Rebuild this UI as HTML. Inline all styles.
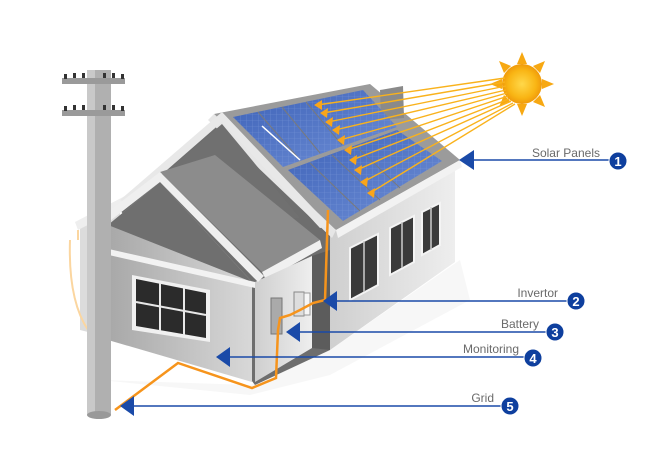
<!DOCTYPE html>
<html><head><meta charset="utf-8"><style>
html,body{margin:0;padding:0;background:#fff;}
svg{display:block;}
text{font-family:"Liberation Sans",sans-serif;}
</style></head><body>
<svg width="650" height="461" viewBox="0 0 650 461" xmlns="http://www.w3.org/2000/svg">
<defs>
<linearGradient id="wall" x1="0" x2="1"><stop offset="0" stop-color="#a8a8a8"/><stop offset="1" stop-color="#d8d8d8"/></linearGradient>
<linearGradient id="side" x1="0" x2="1"><stop offset="0" stop-color="#cfcfcf"/><stop offset="1" stop-color="#eeeeee"/></linearGradient>
<linearGradient id="pv" x1="0" x2="1" y1="0" y2="1"><stop offset="0" stop-color="#3d62b8"/><stop offset="1" stop-color="#6f8fd6"/></linearGradient>
<radialGradient id="sun"><stop offset="0" stop-color="#ffd84a"/><stop offset="0.7" stop-color="#f9b514"/><stop offset="1" stop-color="#f09a0a"/></radialGradient>
<pattern id="cells" width="6" height="6" patternUnits="userSpaceOnUse"><rect width="6" height="6" fill="none"/><path d="M0 0H6M0 0V6" stroke="#8aa4e0" stroke-width="0.6" opacity="0.6"/></pattern>
</defs>
<polygon points="100,380 250,395 330,375 470,300 460,260 330,350 250,385" fill="#f7f7f7"/>
<polygon points="222,112 335,225 330,350 255,385 120,210" fill="#6e6e6e"/>
<polygon points="80,225 120,200 120,340 80,330" fill="#dcdcdc"/>
<polygon points="75,222 125,196 127,205 78,230" fill="#eee"/>
<polygon points="330,232 455,165 455,262 330,350" fill="url(#side)"/>
<g fill="#3a3a3a" stroke="#f4f4f4" stroke-width="2">
<polygon points="350,248 378,234 378,285 350,300"/>
<polygon points="390,228 414,216 414,262 390,275"/>
<polygon points="422,212 440,203 440,245 422,255"/>
</g>
<g stroke="#ccc" stroke-width="1.5"><line x1="364" y1="241" x2="364" y2="292"/><line x1="402" y1="222" x2="402" y2="268"/><line x1="431" y1="207" x2="431" y2="250"/></g>
<polygon points="214,114 370,84 460,160 336,230" fill="#9b9b9b"/>
<polygon points="214,114 336,230 332,238 208,120" fill="#e6e6e6"/>
<polygon points="336,230 460,160 462,167 338,238" fill="#f2f2f2"/>
<polygon points="380,90 403,86 404,118 381,120" fill="#8a8a8a"/>
<polygon points="233,117 363,90 397,127 283,167" fill="url(#pv)"/>
<polygon points="233,117 363,90 397,127 283,167" fill="url(#cells)"/>
<polygon points="288,170 397,130 442,161 343,221" fill="url(#pv)"/>
<polygon points="288,170 397,130 442,161 343,221" fill="url(#cells)"/>
<g stroke="#7a7a7a" stroke-width="1"><line x1="258" y1="112" x2="300" y2="160"/><line x1="282" y1="107" x2="320" y2="153"/><line x1="306" y1="102" x2="342" y2="145"/><line x1="310" y1="163" x2="360" y2="211"/><line x1="332" y1="155" x2="380" y2="200"/><line x1="356" y1="146" x2="400" y2="188"/></g>
<line x1="262" y1="126" x2="300" y2="160" stroke="#fff" stroke-width="1.5"/>
<polygon points="222,112 120,200 128,204 222,122 320,228 330,226" fill="#e8e8e8"/>
<polygon points="222,124 128,204 240,220 300,218" fill="#707070"/>
<polygon points="160,172 215,155 320,240 262,272" fill="#8c8c8c"/>
<polygon points="262,272 320,240 322,248 266,280" fill="#f0f0f0"/>
<polygon points="255,282 312,256 312,348 255,382" fill="url(#side)"/>
<polygon points="312,256 330,250 330,350 312,348" fill="#5c5c5c"/>
<polygon points="160,182 108,225 108,340 252,382 252,282" fill="url(#wall)"/>
<polygon points="160,182 108,225 252,282" fill="#6f6f6f"/>
<polygon points="160,172 100,218 106,224 160,182 258,282 264,276" fill="#efefef"/>
<polygon points="100,247 255,282 255,288 100,253" fill="#f2f2f2"/>
<polygon points="132,275 210,290 210,342 132,330" fill="#f0f0f0"/>
<polygon points="136,279 206,293 206,338 136,326" fill="#2b2b2b"/>
<g stroke="#e8e8e8" stroke-width="2"><line x1="160" y1="283" x2="160" y2="331"/><line x1="184" y1="288" x2="184" y2="335"/><line x1="136" y1="302" x2="206" y2="315"/></g>
<rect x="271" y="298" width="11" height="36" fill="#aaa" stroke="#777"/>
<rect x="294" y="292" width="10" height="24" fill="#ddd" stroke="#888"/>
<rect x="304" y="293" width="6" height="22" fill="#f6f6f6" stroke="#999"/>
<polyline points="328,210 325,300 313,303 300,310 290,315 280,318 278,330 276,378 252,388 178,363 115,410" fill="none" stroke="#f6941c" stroke-width="2.5"/>
<path d="M78,230 V240 M70,240 Q68,300 88,330" fill="none" stroke="#fbd6a0" stroke-width="2"/>
<rect x="87" y="70" width="24" height="345" fill="#b0b0b0"/>
<rect x="87" y="70" width="8" height="345" fill="#c9c9c9"/>
<ellipse cx="99" cy="415" rx="12" ry="4" fill="#999"/>
<rect x="62" y="78" width="63" height="6" fill="#9a9a9a"/>
<rect x="62" y="110" width="63" height="6" fill="#9a9a9a"/>
<g fill="#333"><rect x="64" y="74" width="3" height="5"/><rect x="73" y="73" width="3" height="5"/><rect x="82" y="73" width="3" height="5"/><rect x="103" y="73" width="3" height="5"/><rect x="112" y="73" width="3" height="5"/><rect x="121" y="74" width="3" height="5"/>
<rect x="64" y="106" width="3" height="5"/><rect x="73" y="105" width="3" height="5"/><rect x="82" y="105" width="3" height="5"/><rect x="103" y="105" width="3" height="5"/><rect x="112" y="105" width="3" height="5"/><rect x="121" y="106" width="3" height="5"/></g>
<g transform="translate(522,84)">
<g fill="#f7a812">
<polygon points="0,-32 5,-20 -5,-20"/><polygon points="0,32 5,20 -5,20"/><polygon points="-32,0 -20,5 -20,-5"/><polygon points="32,0 20,5 20,-5"/>
<polygon points="23,-23 18,-11 11,-18"/><polygon points="-23,23 -18,11 -11,18"/><polygon points="23,23 11,18 18,11"/><polygon points="-23,-23 -11,-18 -18,-11"/>
</g>
<circle r="20" fill="url(#sun)"/>
</g>
<g stroke="#f9b21c" stroke-width="1.4">
<line x1="505" y1="78" x2="317" y2="105"/><line x1="505" y1="82" x2="323" y2="113"/><line x1="506" y1="86" x2="328" y2="122"/><line x1="506" y1="90" x2="335" y2="130"/><line x1="507" y1="93" x2="340" y2="140"/><line x1="508" y1="96" x2="347" y2="150"/><line x1="509" y1="99" x2="352" y2="160"/><line x1="511" y1="101" x2="357" y2="170"/><line x1="513" y1="103" x2="363" y2="182"/><line x1="515" y1="104" x2="370" y2="193"/>
</g>
<g fill="#f9a51a">
<polygon points="314,105 322,100 322,110"/><polygon points="320,113 328,108 327,118"/><polygon points="325,122 333,117 332,127"/><polygon points="332,130 340,125 339,135"/><polygon points="337,140 345,135 344,145"/><polygon points="344,150 352,145 351,155"/><polygon points="349,160 357,155 356,165"/><polygon points="354,170 362,165 361,175"/><polygon points="360,182 368,177 367,187"/><polygon points="367,193 375,188 374,198"/>
</g>
<g stroke="#1a4aa8" stroke-width="1.6">
<line x1="470" y1="160" x2="612" y2="160"/>
<line x1="335" y1="301" x2="570" y2="301"/>
<line x1="298" y1="332" x2="550" y2="332"/>
<line x1="228" y1="357" x2="528" y2="357"/>
<line x1="132" y1="406" x2="505" y2="406"/>
</g>
<g fill="#1a4aa8">
<polygon points="459,160 474,150 474,170"/>
<polygon points="323,301 337,291 337,311"/>
<polygon points="286,332 300,322 300,342"/>
<polygon points="216,357 230,347 230,367"/>
<polygon points="120,406 134,396 134,416"/>
</g>
<g fill="#0e3f9e" stroke="#fff" stroke-width="1">
<circle cx="618" cy="161" r="9"/><circle cx="576" cy="301" r="9"/><circle cx="555" cy="332" r="9"/><circle cx="533" cy="358" r="9"/><circle cx="510" cy="406" r="9"/>
</g>
<g fill="#fff" font-size="13" font-weight="bold" text-anchor="middle">
<text x="618" y="166">1</text><text x="576" y="306">2</text><text x="555" y="337">3</text><text x="533" y="363">4</text><text x="510" y="411">5</text>
</g>
<g fill="#6a6a6a" font-size="12" text-anchor="end">
<text x="600" y="157">Solar Panels</text>
<text x="558" y="297">Invertor</text>
<text x="539" y="328">Battery</text>
<text x="519" y="353">Monitoring</text>
<text x="494" y="402">Grid</text>
</g>
</svg>
</body></html>
